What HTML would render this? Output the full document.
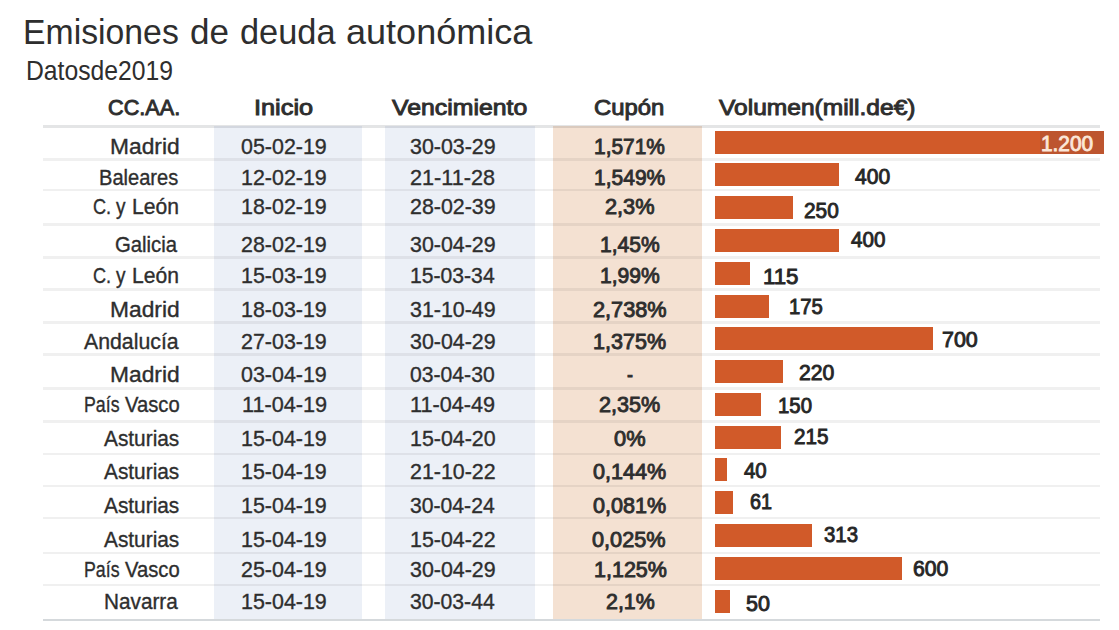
<!DOCTYPE html><html><head><meta charset="utf-8"><title>Emisiones de deuda autonómica</title><style>

html,body{margin:0;padding:0;background:#fff;width:1119px;height:630px;overflow:hidden;position:relative}
.t{position:absolute;font-family:"Liberation Sans",sans-serif;line-height:1;white-space:nowrap;transform-origin:0 0}
.n{-webkit-text-stroke:0.35px currentColor}
.sb{-webkit-text-stroke:0.9px currentColor}
.r{position:absolute}

</style></head><body>
<div class="r" style="left:214.0px;top:126.0px;width:148.0px;height:494.0px;background:#ecf0f7"></div>
<div class="r" style="left:385.0px;top:126.0px;width:149.7px;height:494.0px;background:#ecf0f7"></div>
<div class="r" style="left:553.0px;top:126.0px;width:148.7px;height:494.0px;background:#f4e1d2"></div>
<div class="r" style="left:43.0px;top:124.80px;width:1057.0px;height:3.00px;background:rgba(30,40,50,0.12)"></div>
<div class="r" style="left:43.0px;top:158.25px;width:1057.0px;height:2.30px;background:rgba(0,0,0,0.06)"></div>
<div class="r" style="left:43.0px;top:189.05px;width:1057.0px;height:2.30px;background:rgba(0,0,0,0.06)"></div>
<div class="r" style="left:43.0px;top:223.25px;width:1057.0px;height:2.30px;background:rgba(0,0,0,0.06)"></div>
<div class="r" style="left:43.0px;top:256.45px;width:1057.0px;height:2.30px;background:rgba(0,0,0,0.06)"></div>
<div class="r" style="left:43.0px;top:288.25px;width:1057.0px;height:2.30px;background:rgba(0,0,0,0.06)"></div>
<div class="r" style="left:43.0px;top:321.25px;width:1057.0px;height:2.30px;background:rgba(0,0,0,0.06)"></div>
<div class="r" style="left:43.0px;top:353.35px;width:1057.0px;height:2.30px;background:rgba(0,0,0,0.06)"></div>
<div class="r" style="left:43.0px;top:387.25px;width:1057.0px;height:2.30px;background:rgba(0,0,0,0.06)"></div>
<div class="r" style="left:43.0px;top:420.35px;width:1057.0px;height:2.30px;background:rgba(0,0,0,0.06)"></div>
<div class="r" style="left:43.0px;top:452.55px;width:1057.0px;height:2.30px;background:rgba(0,0,0,0.06)"></div>
<div class="r" style="left:43.0px;top:484.95px;width:1057.0px;height:2.30px;background:rgba(0,0,0,0.06)"></div>
<div class="r" style="left:43.0px;top:516.85px;width:1057.0px;height:2.30px;background:rgba(0,0,0,0.06)"></div>
<div class="r" style="left:43.0px;top:551.75px;width:1057.0px;height:2.30px;background:rgba(0,0,0,0.06)"></div>
<div class="r" style="left:43.0px;top:583.75px;width:1057.0px;height:2.30px;background:rgba(0,0,0,0.06)"></div>
<div class="r" style="left:43.0px;top:618.70px;width:1057.0px;height:2.60px;background:#d5d9dc"></div>
<div class="r" style="left:715.0px;top:130.60px;width:389.0px;height:23.00px;background:#d15a29"></div>
<div class="r" style="left:715.0px;top:163.38px;width:124.4px;height:23.00px;background:#d15a29"></div>
<div class="r" style="left:715.0px;top:196.16px;width:77.6px;height:23.00px;background:#d15a29"></div>
<div class="r" style="left:715.0px;top:228.94px;width:124.0px;height:23.00px;background:#d15a29"></div>
<div class="r" style="left:715.0px;top:261.72px;width:35.4px;height:23.00px;background:#d15a29"></div>
<div class="r" style="left:715.0px;top:294.50px;width:54.2px;height:23.00px;background:#d15a29"></div>
<div class="r" style="left:715.0px;top:327.28px;width:217.7px;height:23.00px;background:#d15a29"></div>
<div class="r" style="left:715.0px;top:360.06px;width:67.8px;height:23.00px;background:#d15a29"></div>
<div class="r" style="left:715.0px;top:392.84px;width:45.8px;height:23.00px;background:#d15a29"></div>
<div class="r" style="left:715.0px;top:425.62px;width:66.3px;height:23.00px;background:#d15a29"></div>
<div class="r" style="left:715.0px;top:458.40px;width:11.8px;height:23.00px;background:#d15a29"></div>
<div class="r" style="left:715.0px;top:491.18px;width:18.0px;height:23.00px;background:#d15a29"></div>
<div class="r" style="left:715.0px;top:523.96px;width:97.0px;height:23.00px;background:#d15a29"></div>
<div class="r" style="left:715.0px;top:556.74px;width:186.6px;height:23.00px;background:#d15a29"></div>
<div class="r" style="left:715.0px;top:589.52px;width:14.5px;height:23.00px;background:#d15a29"></div>
<div class="r" style="left:1040px;top:130.60px;width:64px;height:23.00px;background:#bd552f"></div>
<div class="t" style="left:22.84px;top:14.50px;font-size:34.50px;font-weight:normal;color:#2e2e2e;transform:scaleX(0.9789)">Emisiones</div>
<div class="t" style="left:189.79px;top:14.50px;font-size:34.50px;font-weight:normal;color:#2e2e2e;transform:scaleX(1.0144)">de</div>
<div class="t" style="left:239.60px;top:14.50px;font-size:34.50px;font-weight:normal;color:#2e2e2e;transform:scaleX(0.9960)">deuda</div>
<div class="t" style="left:346.37px;top:14.50px;font-size:34.50px;font-weight:normal;color:#2e2e2e;transform:scaleX(1.0444)">autonómica</div>
<div class="t" style="left:26.10px;top:57.00px;font-size:27.50px;font-weight:normal;color:#2e2e2e;transform:scaleX(0.8988)">Datosde2019</div>
<div class="t sb" style="left:107.80px;top:98.20px;font-size:21.50px;font-weight:normal;color:#2e2e2e;transform:scaleX(1.0081)">CC.AA.</div>
<div class="t sb" style="left:254.47px;top:98.20px;font-size:21.50px;font-weight:normal;color:#2e2e2e;transform:scaleX(1.1777)">Inicio</div>
<div class="t sb" style="left:392.48px;top:98.40px;font-size:21.50px;font-weight:normal;color:#2e2e2e;transform:scaleX(1.1544)">Vencimiento</div>
<div class="t sb" style="left:594.37px;top:98.20px;font-size:21.50px;font-weight:normal;color:#2e2e2e;transform:scaleX(1.1114)">Cupón</div>
<div class="t sb" style="left:719.46px;top:97.80px;font-size:21.50px;font-weight:normal;color:#2e2e2e;transform:scaleX(1.1419)">Volumen(mill.de€)</div>
<div class="t n" style="left:110.14px;top:136.70px;font-size:21.50px;font-weight:normal;color:#2e2e2e;transform:scaleX(1.0596)">Madrid</div>
<div class="t n" style="left:240.99px;top:135.70px;font-size:21.80px;font-weight:normal;color:#2e2e2e;transform:scaleX(0.9832)">05-02-19</div>
<div class="t n" style="left:409.61px;top:135.70px;font-size:21.80px;font-weight:normal;color:#2e2e2e;transform:scaleX(0.9818)">30-03-29</div>
<div class="t sb" style="left:594.41px;top:136.70px;font-size:21.30px;font-weight:normal;color:#2e2e2e;transform:scaleX(0.9824)">1,571%</div>
<div class="t sb" style="left:1041.39px;top:134.00px;font-size:21.30px;font-weight:normal;color:#fbe7d9;transform:scaleX(0.9763)">1.200</div>
<div class="t n" style="left:99.22px;top:168.00px;font-size:21.50px;font-weight:normal;color:#2e2e2e;transform:scaleX(0.9333)">Baleares</div>
<div class="t n" style="left:240.99px;top:167.00px;font-size:21.80px;font-weight:normal;color:#2e2e2e;transform:scaleX(0.9830)">12-02-19</div>
<div class="t n" style="left:409.60px;top:167.00px;font-size:21.80px;font-weight:normal;color:#2e2e2e;transform:scaleX(0.9932)">21-11-28</div>
<div class="t sb" style="left:594.40px;top:168.00px;font-size:21.30px;font-weight:normal;color:#2e2e2e;transform:scaleX(0.9863)">1,549%</div>
<div class="t sb" style="left:854.58px;top:166.50px;font-size:21.30px;font-weight:normal;color:#262626;transform:scaleX(0.9881)">400</div>
<div class="t n" style="left:92.60px;top:197.40px;font-size:21.50px;font-weight:normal;color:#2e2e2e;transform:scaleX(0.8427)">C.</div>
<div class="t n" style="left:116.02px;top:197.40px;font-size:21.50px;font-weight:normal;color:#2e2e2e;transform:scaleX(0.8850)">y</div>
<div class="t n" style="left:131.61px;top:197.40px;font-size:21.50px;font-weight:normal;color:#2e2e2e;transform:scaleX(0.9811)">León</div>
<div class="t n" style="left:240.99px;top:196.40px;font-size:21.80px;font-weight:normal;color:#2e2e2e;transform:scaleX(0.9830)">18-02-19</div>
<div class="t n" style="left:409.61px;top:196.40px;font-size:21.80px;font-weight:normal;color:#2e2e2e;transform:scaleX(0.9818)">28-02-39</div>
<div class="t sb" style="left:605.40px;top:197.40px;font-size:21.30px;font-weight:normal;color:#2e2e2e;transform:scaleX(1.0204)">2,3%</div>
<div class="t sb" style="left:803.60px;top:200.90px;font-size:21.30px;font-weight:normal;color:#262626;transform:scaleX(0.9784)">250</div>
<div class="t n" style="left:115.22px;top:234.70px;font-size:21.50px;font-weight:normal;color:#2e2e2e;transform:scaleX(0.9444)">Galicia</div>
<div class="t n" style="left:240.99px;top:233.70px;font-size:21.80px;font-weight:normal;color:#2e2e2e;transform:scaleX(0.9829)">28-02-19</div>
<div class="t n" style="left:409.61px;top:233.70px;font-size:21.80px;font-weight:normal;color:#2e2e2e;transform:scaleX(0.9818)">30-04-29</div>
<div class="t sb" style="left:599.99px;top:234.70px;font-size:21.30px;font-weight:normal;color:#2e2e2e;transform:scaleX(0.9888)">1,45%</div>
<div class="t sb" style="left:850.57px;top:230.30px;font-size:21.30px;font-weight:normal;color:#262626;transform:scaleX(0.9682)">400</div>
<div class="t n" style="left:92.60px;top:265.80px;font-size:21.50px;font-weight:normal;color:#2e2e2e;transform:scaleX(0.8427)">C.</div>
<div class="t n" style="left:116.02px;top:265.80px;font-size:21.50px;font-weight:normal;color:#2e2e2e;transform:scaleX(0.8850)">y</div>
<div class="t n" style="left:131.61px;top:265.80px;font-size:21.50px;font-weight:normal;color:#2e2e2e;transform:scaleX(0.9811)">León</div>
<div class="t n" style="left:240.99px;top:264.80px;font-size:21.80px;font-weight:normal;color:#2e2e2e;transform:scaleX(0.9830)">15-03-19</div>
<div class="t n" style="left:409.64px;top:264.80px;font-size:21.80px;font-weight:normal;color:#2e2e2e;transform:scaleX(0.9700)">15-03-34</div>
<div class="t sb" style="left:599.99px;top:265.80px;font-size:21.30px;font-weight:normal;color:#2e2e2e;transform:scaleX(0.9888)">1,99%</div>
<div class="t sb" style="left:763.38px;top:266.50px;font-size:21.30px;font-weight:normal;color:#262626;transform:scaleX(1.0456)">115</div>
<div class="t n" style="left:110.14px;top:299.70px;font-size:21.50px;font-weight:normal;color:#2e2e2e;transform:scaleX(1.0596)">Madrid</div>
<div class="t n" style="left:240.99px;top:298.70px;font-size:21.80px;font-weight:normal;color:#2e2e2e;transform:scaleX(0.9830)">18-03-19</div>
<div class="t n" style="left:409.61px;top:298.70px;font-size:21.80px;font-weight:normal;color:#2e2e2e;transform:scaleX(0.9818)">31-10-49</div>
<div class="t sb" style="left:592.60px;top:299.70px;font-size:21.30px;font-weight:normal;color:#2e2e2e;transform:scaleX(1.0198)">2,738%</div>
<div class="t sb" style="left:788.96px;top:297.10px;font-size:21.30px;font-weight:normal;color:#262626;transform:scaleX(0.9536)">175</div>
<div class="t n" style="left:83.80px;top:332.40px;font-size:21.50px;font-weight:normal;color:#2e2e2e;transform:scaleX(0.9896)">Andalucía</div>
<div class="t n" style="left:240.99px;top:331.40px;font-size:21.80px;font-weight:normal;color:#2e2e2e;transform:scaleX(0.9829)">27-03-19</div>
<div class="t n" style="left:409.61px;top:331.40px;font-size:21.80px;font-weight:normal;color:#2e2e2e;transform:scaleX(0.9818)">30-04-29</div>
<div class="t sb" style="left:592.79px;top:332.40px;font-size:21.30px;font-weight:normal;color:#2e2e2e;transform:scaleX(1.0115)">1,375%</div>
<div class="t sb" style="left:942.18px;top:330.10px;font-size:21.30px;font-weight:normal;color:#262626;transform:scaleX(1.0069)">700</div>
<div class="t n" style="left:110.14px;top:364.70px;font-size:21.50px;font-weight:normal;color:#2e2e2e;transform:scaleX(1.0596)">Madrid</div>
<div class="t n" style="left:240.99px;top:363.70px;font-size:21.80px;font-weight:normal;color:#2e2e2e;transform:scaleX(0.9832)">03-04-19</div>
<div class="t n" style="left:409.61px;top:363.70px;font-size:21.80px;font-weight:normal;color:#2e2e2e;transform:scaleX(0.9704)">03-04-30</div>
<div class="t sb" style="left:626.61px;top:364.70px;font-size:21.30px;font-weight:normal;color:#2e2e2e;transform:scaleX(0.8407)">-</div>
<div class="t sb" style="left:799.40px;top:362.50px;font-size:21.30px;font-weight:normal;color:#262626;transform:scaleX(0.9951)">220</div>
<div class="t n" style="left:83.71px;top:395.20px;font-size:21.50px;font-weight:normal;color:#2e2e2e;transform:scaleX(0.8255)">País</div>
<div class="t n" style="left:124.78px;top:395.20px;font-size:21.50px;font-weight:normal;color:#2e2e2e;transform:scaleX(0.9401)">Vasco</div>
<div class="t n" style="left:241.99px;top:394.20px;font-size:21.80px;font-weight:normal;color:#2e2e2e;transform:scaleX(0.9943)">11-04-19</div>
<div class="t n" style="left:409.61px;top:394.20px;font-size:21.80px;font-weight:normal;color:#2e2e2e;transform:scaleX(0.9931)">11-04-49</div>
<div class="t sb" style="left:598.80px;top:395.20px;font-size:21.30px;font-weight:normal;color:#2e2e2e;transform:scaleX(1.0151)">2,35%</div>
<div class="t sb" style="left:778.20px;top:395.50px;font-size:21.30px;font-weight:normal;color:#262626;transform:scaleX(0.9557)">150</div>
<div class="t n" style="left:103.59px;top:428.60px;font-size:21.50px;font-weight:normal;color:#2e2e2e;transform:scaleX(0.9694)">Asturias</div>
<div class="t n" style="left:240.99px;top:427.60px;font-size:21.80px;font-weight:normal;color:#2e2e2e;transform:scaleX(0.9830)">15-04-19</div>
<div class="t n" style="left:409.63px;top:427.60px;font-size:21.80px;font-weight:normal;color:#2e2e2e;transform:scaleX(0.9816)">15-04-20</div>
<div class="t sb" style="left:614.00px;top:428.60px;font-size:21.30px;font-weight:normal;color:#2e2e2e;transform:scaleX(1.0237)">0%</div>
<div class="t sb" style="left:793.61px;top:427.10px;font-size:21.30px;font-weight:normal;color:#262626;transform:scaleX(0.9698)">215</div>
<div class="t n" style="left:103.59px;top:462.40px;font-size:21.50px;font-weight:normal;color:#2e2e2e;transform:scaleX(0.9694)">Asturias</div>
<div class="t n" style="left:240.99px;top:461.40px;font-size:21.80px;font-weight:normal;color:#2e2e2e;transform:scaleX(0.9830)">15-04-19</div>
<div class="t n" style="left:409.59px;top:461.40px;font-size:21.80px;font-weight:normal;color:#2e2e2e;transform:scaleX(0.9818)">21-10-22</div>
<div class="t sb" style="left:592.59px;top:462.40px;font-size:21.30px;font-weight:normal;color:#2e2e2e;transform:scaleX(1.0126)">0,144%</div>
<div class="t sb" style="left:743.98px;top:461.10px;font-size:21.30px;font-weight:normal;color:#262626;transform:scaleX(0.9600)">40</div>
<div class="t n" style="left:103.59px;top:496.30px;font-size:21.50px;font-weight:normal;color:#2e2e2e;transform:scaleX(0.9694)">Asturias</div>
<div class="t n" style="left:240.99px;top:495.30px;font-size:21.80px;font-weight:normal;color:#2e2e2e;transform:scaleX(0.9830)">15-04-19</div>
<div class="t n" style="left:409.61px;top:495.30px;font-size:21.80px;font-weight:normal;color:#2e2e2e;transform:scaleX(0.9704)">30-04-24</div>
<div class="t sb" style="left:592.59px;top:496.30px;font-size:21.30px;font-weight:normal;color:#2e2e2e;transform:scaleX(1.0126)">0,081%</div>
<div class="t sb" style="left:750.20px;top:492.10px;font-size:21.30px;font-weight:normal;color:#262626;transform:scaleX(0.9293)">61</div>
<div class="t n" style="left:103.59px;top:530.20px;font-size:21.50px;font-weight:normal;color:#2e2e2e;transform:scaleX(0.9694)">Asturias</div>
<div class="t n" style="left:240.99px;top:529.20px;font-size:21.80px;font-weight:normal;color:#2e2e2e;transform:scaleX(0.9830)">15-04-19</div>
<div class="t n" style="left:409.61px;top:529.20px;font-size:21.80px;font-weight:normal;color:#2e2e2e;transform:scaleX(0.9816)">15-04-22</div>
<div class="t sb" style="left:592.40px;top:530.20px;font-size:21.30px;font-weight:normal;color:#2e2e2e;transform:scaleX(1.0184)">0,025%</div>
<div class="t sb" style="left:824.22px;top:525.20px;font-size:21.30px;font-weight:normal;color:#262626;transform:scaleX(0.9557)">313</div>
<div class="t n" style="left:83.71px;top:559.70px;font-size:21.50px;font-weight:normal;color:#2e2e2e;transform:scaleX(0.8255)">País</div>
<div class="t n" style="left:124.78px;top:559.70px;font-size:21.50px;font-weight:normal;color:#2e2e2e;transform:scaleX(0.9401)">Vasco</div>
<div class="t n" style="left:240.99px;top:558.70px;font-size:21.80px;font-weight:normal;color:#2e2e2e;transform:scaleX(0.9829)">25-04-19</div>
<div class="t n" style="left:409.61px;top:558.70px;font-size:21.80px;font-weight:normal;color:#2e2e2e;transform:scaleX(0.9818)">30-04-29</div>
<div class="t sb" style="left:593.58px;top:559.70px;font-size:21.30px;font-weight:normal;color:#2e2e2e;transform:scaleX(1.0099)">1,125%</div>
<div class="t sb" style="left:913.00px;top:559.30px;font-size:21.30px;font-weight:normal;color:#262626;transform:scaleX(0.9951)">600</div>
<div class="t n" style="left:104.20px;top:592.40px;font-size:21.50px;font-weight:normal;color:#2e2e2e;transform:scaleX(0.9652)">Navarra</div>
<div class="t n" style="left:240.99px;top:591.40px;font-size:21.80px;font-weight:normal;color:#2e2e2e;transform:scaleX(0.9830)">15-04-19</div>
<div class="t n" style="left:409.61px;top:591.40px;font-size:21.80px;font-weight:normal;color:#2e2e2e;transform:scaleX(0.9704)">30-03-44</div>
<div class="t sb" style="left:605.81px;top:592.40px;font-size:21.30px;font-weight:normal;color:#2e2e2e;transform:scaleX(1.0048)">2,1%</div>
<div class="t sb" style="left:746.00px;top:594.10px;font-size:21.30px;font-weight:normal;color:#262626;transform:scaleX(1.0097)">50</div>
</body></html>
